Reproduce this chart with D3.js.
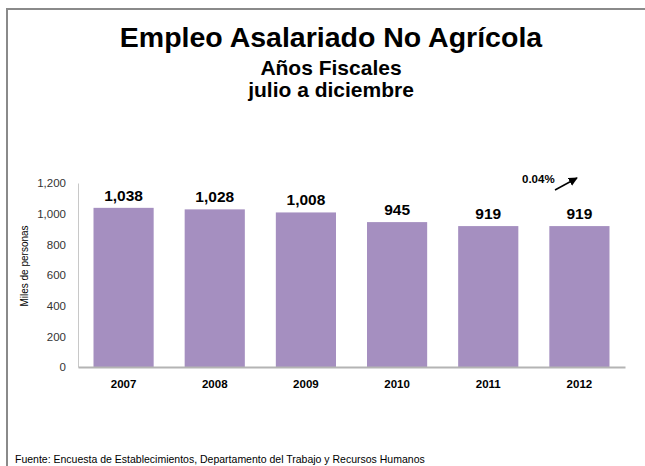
<!DOCTYPE html>
<html><head><meta charset="utf-8">
<script src="https://cdn.jsdelivr.net/npm/d3@7"></script>
<style>
html,body{margin:0;padding:0;background:#fff;}
svg{display:block;font-family:"Liberation Sans",Arial,sans-serif;}
</style></head>
<body>
<svg id="chart" width="645" height="466"></svg>
<script>
const years = ["2007","2008","2009","2010","2011","2012"];
const values = [1038, 1028, 1008, 945, 919, 919];
const yTicks = [0, 200, 400, 600, 800, 1000, 1200];
const titleLines = ["Empleo Asalariado No Agrícola", "Años Fiscales", "julio a diciembre"];
const yAxisTitle = "Miles de personas";
const changeLabel = "0.04%";
const sourceNote = "Fuente: Encuesta de Establecimientos, Departamento del Trabajo y Recursos Humanos";

const svg = d3.select("#chart");
const fmt = d3.format(",");

// frame
svg.append("path").attr("d","M7,466 V9 H645").attr("fill","none").attr("stroke","#8a8a8a").attr("stroke-width",2);

// titles
svg.append("text").attr("x",331).attr("y",47).attr("text-anchor","middle")
  .attr("font-size",28.5).attr("font-weight","bold").attr("fill","#000").text(titleLines[0]);
svg.append("text").attr("x",331).attr("y",75).attr("text-anchor","middle")
  .attr("font-size",21).attr("font-weight","bold").attr("fill","#000").text(titleLines[1]);
svg.append("text").attr("x",331).attr("y",97).attr("text-anchor","middle")
  .attr("font-size",21).attr("font-weight","bold").attr("fill","#000").text(titleLines[2]);

const x = d3.scaleBand().domain(years).range([78, 625]).paddingInner(0.34).paddingOuter(0.17);
const y = d3.scaleLinear().domain([0, 1200]).range([367, 183]);

// y axis
const yAxis = svg.append("g").attr("transform","translate(78,0)")
  .call(d3.axisLeft(y).tickValues(yTicks).tickFormat(fmt).tickSize(0).tickPadding(12));
yAxis.select(".domain").attr("stroke","#c8c8c8").attr("stroke-width",1);
yAxis.selectAll("text").attr("font-size",11.5).attr("fill","#333").attr("font-family","Liberation Sans, Arial, sans-serif");

// bars
svg.append("g").selectAll("rect").data(values).join("rect")
  .attr("x",(d,i)=>x(years[i])).attr("width",x.bandwidth())
  .attr("y",d=>y(d)).attr("height",d=>y(0)-y(d))
  .attr("fill","#a58fc0");

// value labels
svg.append("g").selectAll("text").data(values).join("text")
  .attr("x",(d,i)=>x(years[i])+x.bandwidth()/2).attr("y",d=>y(d)-7)
  .attr("text-anchor","middle").attr("font-size",15.5).attr("font-weight","bold").attr("fill","#000")
  .text(d=>fmt(d));

// x axis
const xAxis = svg.append("g").attr("transform","translate(0,367)")
  .call(d3.axisBottom(x).tickSize(0).tickPadding(13));
xAxis.select(".domain").attr("stroke","#b4b4b4").attr("stroke-width",2);
xAxis.selectAll("text").attr("font-size",11.5).attr("font-weight","bold").attr("fill","#000").attr("font-family","Liberation Sans, Arial, sans-serif");

// y axis title
svg.append("text").attr("transform","translate(28,266) rotate(-90)").attr("text-anchor","middle")
  .attr("font-size",10).attr("fill","#000").text(yAxisTitle);

// change annotation
svg.append("defs").append("marker").attr("id","ah").attr("viewBox","0 0 10 10").attr("refX",9).attr("refY",5)
  .attr("markerWidth",6).attr("markerHeight",6).attr("orient","auto")
  .append("path").attr("d","M0,0 L10,5 L0,10 z").attr("fill","#000");
svg.append("text").attr("x",522).attr("y",183).attr("font-size",11.5).attr("font-weight","bold").attr("fill","#000").text(changeLabel);
svg.append("line").attr("x1",555).attr("y1",190).attr("x2",577).attr("y2",178)
  .attr("stroke","#000").attr("stroke-width",1.5).attr("marker-end","url(#ah)");

// source
svg.append("text").attr("x",15).attr("y",463).attr("font-size",10.5).attr("fill","#000").text(sourceNote);
</script>
</body></html>
